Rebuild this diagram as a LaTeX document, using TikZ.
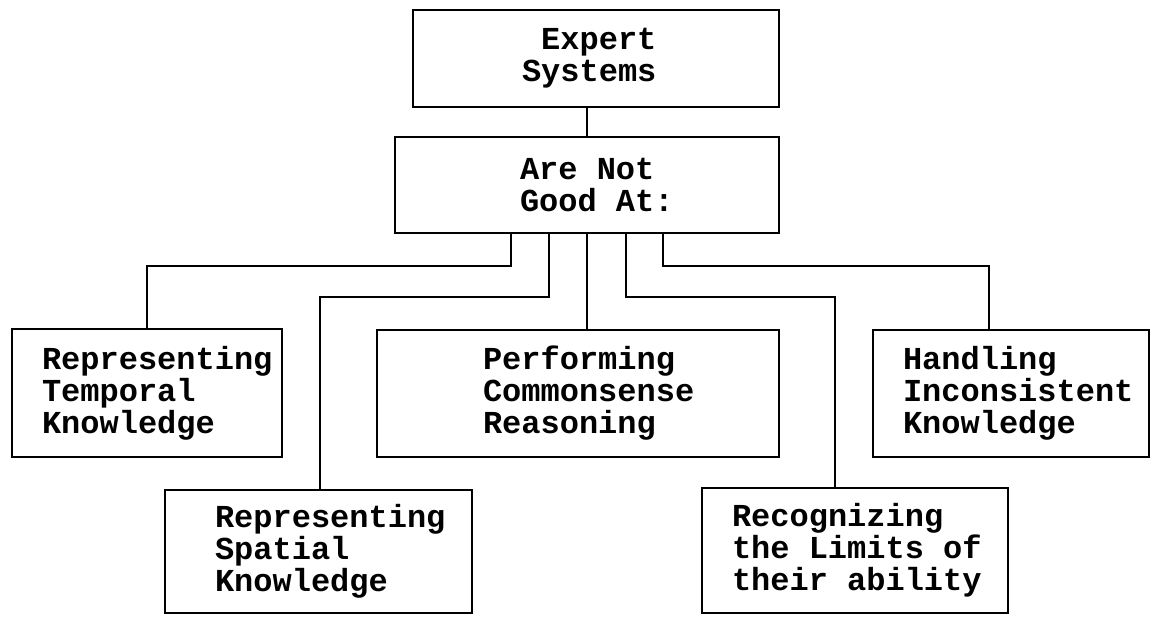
\documentclass[tikz,border=0pt]{standalone}
\usepackage{fontspec}
\newfontfamily\boxfont{Liberation Mono}
\newcommand\msp{\hspace*{19.2pt}}
\begin{document}
\begin{tikzpicture}[x=1pt,y=-1pt,
  box/.style={draw, line width=2.8pt, inner sep=0pt, align=left,
    font=\boxfont\bfseries\fontsize{32}{32}\selectfont},
  conn/.style={draw, line width=2.8pt}]
\fill[white] (0,0) rectangle (1153,617);
\useasboundingbox (0,0) rectangle (1153,617);
% boxes
\node[box, minimum width=366pt, minimum height=97pt, text width=148pt] (expert) at (596,58.5)
  {\mbox{\msp Expert}\\\mbox{Systems}};
\node[box, minimum width=384pt, minimum height=96pt, text width=134pt] (arenot) at (587,185)
  {\mbox{Are\msp Not}\\\mbox{Good\msp At:}};
\node[box, minimum width=270pt, minimum height=128pt, text width=210pt] (temporal) at (147,393)
  {\mbox{Representing}\\\mbox{Temporal}\\\mbox{Knowledge}};
\node[box, minimum width=402pt, minimum height=127pt, text width=190pt] (performing) at (578,393.5)
  {\mbox{Performing}\\\mbox{Commonsense}\\\mbox{Reasoning}};
\node[box, minimum width=276pt, minimum height=127pt, text width=216pt] (handling) at (1011,393.5)
  {\mbox{Handling}\\\mbox{Inconsistent}\\\mbox{Knowledge}};
\node[box, minimum width=307pt, minimum height=123pt, text width=207pt] (spatial) at (318.5,551.5)
  {\mbox{Representing}\\\mbox{Spatial}\\\mbox{Knowledge}};
\node[box, minimum width=306pt, minimum height=125pt, text width=246pt] (recog) at (855,550.5)
  {\mbox{Recognizing}\\\mbox{the\msp Limits\msp of}\\\mbox{their\msp ability}};
% helper coordinates
\coordinate (x1) at (511,266);
\coordinate (x2) at (549,297);
\coordinate (x4) at (626,297);
\coordinate (x5) at (663,266);
\coordinate (d2) at (320,0);
\coordinate (d4) at (835,0);
\coordinate (d5) at (989,0);
% connectors
\draw[conn] (expert.south -| arenot.north) -- (arenot.north);
\draw[conn] (arenot.south -| x1) -- (x1) -| (temporal.north);
\draw[conn] (arenot.south -| x2) -- (x2) -| (spatial.north -| d2);
\draw[conn] (arenot.south) -- (arenot.south |- performing.north);
\draw[conn] (arenot.south -| x4) -- (x4) -| (recog.north -| d4);
\draw[conn] (arenot.south -| x5) -- (x5) -| (handling.north -| d5);
\end{tikzpicture}
\end{document}
